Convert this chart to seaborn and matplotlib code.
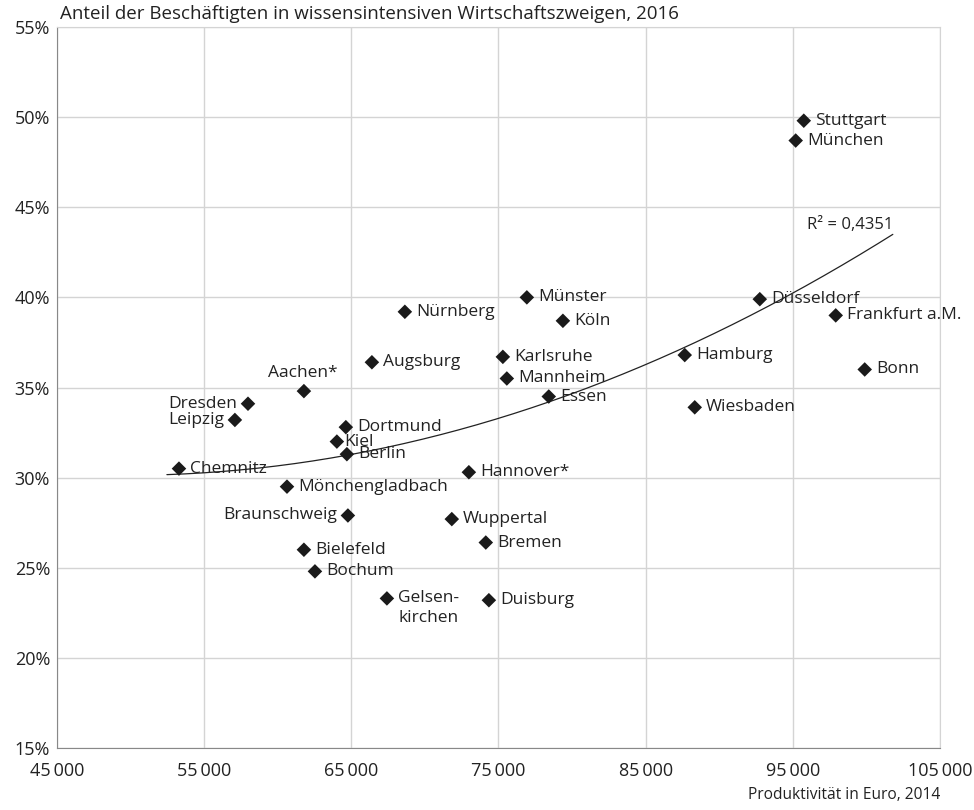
import seaborn as sns
import matplotlib.pyplot as plt
import matplotlib.ticker as mticker
import pandas as pd
import numpy as np

sns.set_style("white")
plt.rcParams['font.family'] = ['Open Sans', 'DejaVu Sans']

# Data: productivity (Euro, 2014) vs. share of knowledge-intensive employment (%, 2016)
cities = ['Stuttgart', 'München', 'Düsseldorf', 'Frankfurt a.M.', 'Bonn', 'Hamburg', 'Wiesbaden',
          'Münster', 'Köln', 'Nürnberg', 'Karlsruhe', 'Mannheim', 'Essen', 'Augsburg', 'Aachen*',
          'Dresden', 'Leipzig', 'Dortmund', 'Kiel', 'Berlin', 'Chemnitz', 'Hannover*',
          'Mönchengladbach', 'Braunschweig', 'Wuppertal', 'Bremen', 'Bielefeld', 'Bochum',
          'Gelsen-\nkirchen', 'Duisburg']
productivity = [95750, 95200, 92760, 97920, 99890, 87660, 88340,
                76930, 79380, 68640, 75300, 75570, 78420, 66400, 61780,
                57980, 57090, 64630, 64020, 64700, 53290, 72990,
                60630, 64770, 71830, 74140, 61780, 62530,
                67420, 74350]
share = [49.8, 48.7, 39.9, 39.0, 36.0, 36.8, 33.9,
         40.0, 38.7, 39.2, 36.7, 35.5, 34.5, 36.4, 34.8,
         34.1, 33.2, 32.8, 32.0, 31.3, 30.5, 30.3,
         29.5, 27.9, 27.7, 26.4, 26.0, 24.8,
         23.3, 23.2]

# points (polynomial trend, R² as printed)
trend_x = [52470, 59340, 64700, 68300, 74970, 78570, 82370, 84950, 88690, 95010, 101800]
trend_y = [30.31, 30.53, 30.92, 31.92, 33.31, 34.47, 35.42, 36.14, 37.47, 40.52, 43.35]
r2_text = "R² = 0,4351"

df = pd.DataFrame({'city': cities, 'x': productivity, 'y': share})

# label placement (offset in points, alignment)
placement = {'Aachen*': (-1, 7, 'center', 'bottom'),
             'Dresden': (-8, 0, 'right', 'center'),
             'Leipzig': (-8, 0, 'right', 'center'),
             'Braunschweig': (-8, 0, 'right', 'center'),
             'Gelsen-\nkirchen': (8, 6, 'left', 'top'),
             'Kiel': (5, 0, 'left', 'center')}

fig = plt.figure(figsize=(9.74, 8.10), dpi=100)
ax = fig.add_axes([0.0585, 0.0765, 0.9065, 0.8902])

# trend line
coef = np.polyfit(trend_x, trend_y, 2)
xs = np.linspace(trend_x[0], trend_x[-1], 200)
sns.lineplot(x=xs, y=np.polyval(coef, xs), color='#222222', lw=0.9, ax=ax, zorder=2)
ax.annotate(r2_text, (xs[-1], np.polyval(coef, xs[-1])), xytext=(0, 1),
            textcoords='offset points', ha='right', va='bottom', fontsize=12, color='#222222')

sns.scatterplot(data=df, x='x', y='y', marker='D', s=55, color='#1a1a1a',
                edgecolor='none', ax=ax, zorder=3)

for c, x, y in zip(cities, productivity, share):
    dx, dy, ha, va = placement.get(c, (8, 0, 'left', 'center'))
    ax.annotate(c, (x, y), xytext=(dx, dy), textcoords='offset points',
                ha=ha, va=va, fontsize=12.5, color='#222222', linespacing=1.3)

ax.set_xlim(45000, 105000)
ax.set_ylim(15, 55)
ax.set_xticks(range(45000, 105001, 10000))
ax.set_yticks(range(15, 56, 5))
ax.xaxis.set_major_formatter(mticker.FuncFormatter(lambda v, p: f"{int(v):,}".replace(',', '\u2009')))
ax.yaxis.set_major_formatter(mticker.FuncFormatter(lambda v, p: f"{int(v)}%"))
ax.tick_params(axis='both', labelsize=13, colors='#222222', length=0)
ax.tick_params(axis='x', pad=10)
ax.tick_params(axis='y', pad=5)
ax.grid(True, color='#d4d4d4', lw=1)
for s in ax.spines.values():
    s.set_color('#d4d4d4')
ax.spines['left'].set_color('#888888')
ax.spines['bottom'].set_color('#888888')
ax.set_xlabel('')
ax.set_ylabel('')

fig.text(0.0615, 0.983, 'Anteil der Beschäftigten in wissensintensiven Wirtschaftszweigen, 2016',
         ha='left', va='center', fontsize=13.5, color='#222222')
fig.text(0.965, 0.019, 'Produktivität in Euro, 2014', ha='right', va='center',
         fontsize=11.2, color='#222222')

fig.savefig('out.png', dpi=100)
plt.close(fig)
